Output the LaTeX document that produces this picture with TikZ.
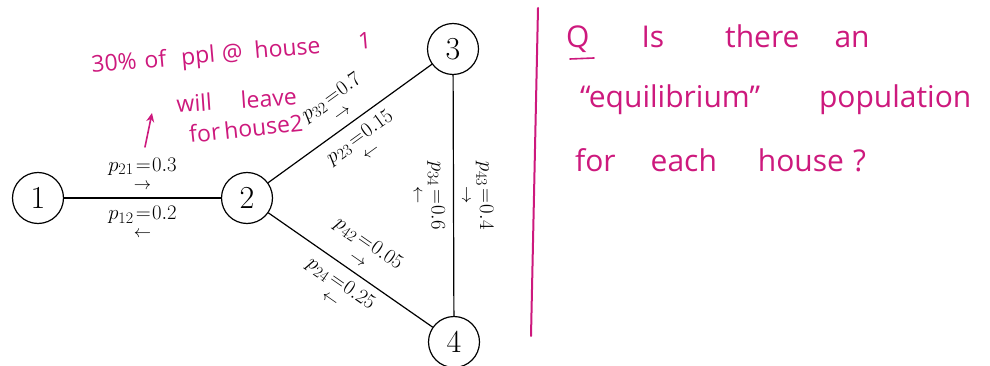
\documentclass[tikz,border=0pt]{standalone}
\usepackage{fontspec}
\usetikzlibrary{arrows.meta}
\newfontfamily\hand{Open Sans}
\definecolor{ink}{RGB}{205,25,125}
\newcommand\probtxt[3]{$p_{\mbox{\fontsize{16}{16}\selectfont #1}}\mkern2mu{=}\mkern1mu#2$\\{\fontsize{17}{17}\selectfont$#3$}}
\begin{document}
\begin{tikzpicture}[x=1pt,y=-1pt,
  house/.style={circle, draw, line width=1.2pt, minimum size=51pt, inner sep=0pt,
    font=\fontsize{32}{34}\selectfont},
  link/.style={line width=1.2pt},
  prob/.style={font=\fontsize{20}{18}\selectfont, align=center, inner sep=8pt,
    sloped, allow upside down, midway},
  note/.style={text=ink, font=\hand\fontsize{23}{25}\selectfont, anchor=base west, inner sep=0pt},
  bignote/.style={text=ink, font=\hand\fontsize{30}{32}\selectfont, anchor=base west, inner sep=0pt},
  pen/.style={draw=ink, line width=1.6pt, line cap=round}
]
\useasboundingbox (0,0) rectangle (990,366);

% houses
\node[house] (n1) at (38,198) {1};
\node[house] (n2) at (247,198) {2};
\node[house] (n3) at (453,49) {3};
\node[house] (n4) at (454,342) {4};

% links with transition probabilities
\draw[link] (n1) -- (n2)
  node[prob, above] (l21) {\probtxt{21}{0.3}{\rightarrow}}
  node[prob, below] (l12) {\probtxt{12}{0.2}{\leftarrow}};
\draw[link] (n2) -- (n3)
  node[prob, above] (l32) {\probtxt{32}{0.7}{\rightarrow}}
  node[prob, below] (l23) {\probtxt{23}{0.15}{\leftarrow}};
\draw[link] (n3) -- (n4)
  node[prob, above] (l43) {\probtxt{43}{0.4}{\rightarrow}}
  node[prob, below] (l34) {\probtxt{34}{0.6}{\leftarrow}};
\draw[link] (n2) -- (n4)
  node[prob, above] (l42) {\probtxt{42}{0.05}{\rightarrow}}
  node[prob, below] (l24) {\probtxt{24}{0.25}{\leftarrow}};

% handwritten note, left
\node[note, rotate=5] (a1) at (92,73) {30\%\hspace{8pt}of\hspace{15pt}ppl\hspace{7pt}@\hspace{12pt}house\hspace{38pt}1};
\node[note, rotate=4] (a2) at (177,113) {will\hspace{29pt}leave};
\node[note, rotate=6] (a3) at (190,143) {for\hspace{4pt}house2};
\coordinate (arrA) at (145,147);
\coordinate (arrB) at (152,113);
\draw[pen, -{Stealth[length=9pt,width=8pt]}] (arrA) -- (arrB);

% divider
\coordinate (divT) at (538,8);
\coordinate (divB) at (531,336);
\draw[pen, line width=2pt] (divT) -- (divB);

% question, right
\node[bignote] (q1) at (566,48) {Q\hspace{52pt}Is\hspace{61pt}there\hspace{35pt}an};
\coordinate (ulA) at (570,59);
\coordinate (ulB) at (594,58);
\draw[pen] (ulA) -- (ulB);
\node[bignote] (q2) at (580,108) {“equilibrium”\hspace{59pt}population};
\node[bignote] (q3) at (575,172) {for\hspace{35pt}each\hspace{41pt}house\hspace{9pt}?};
\end{tikzpicture}
\end{document}
